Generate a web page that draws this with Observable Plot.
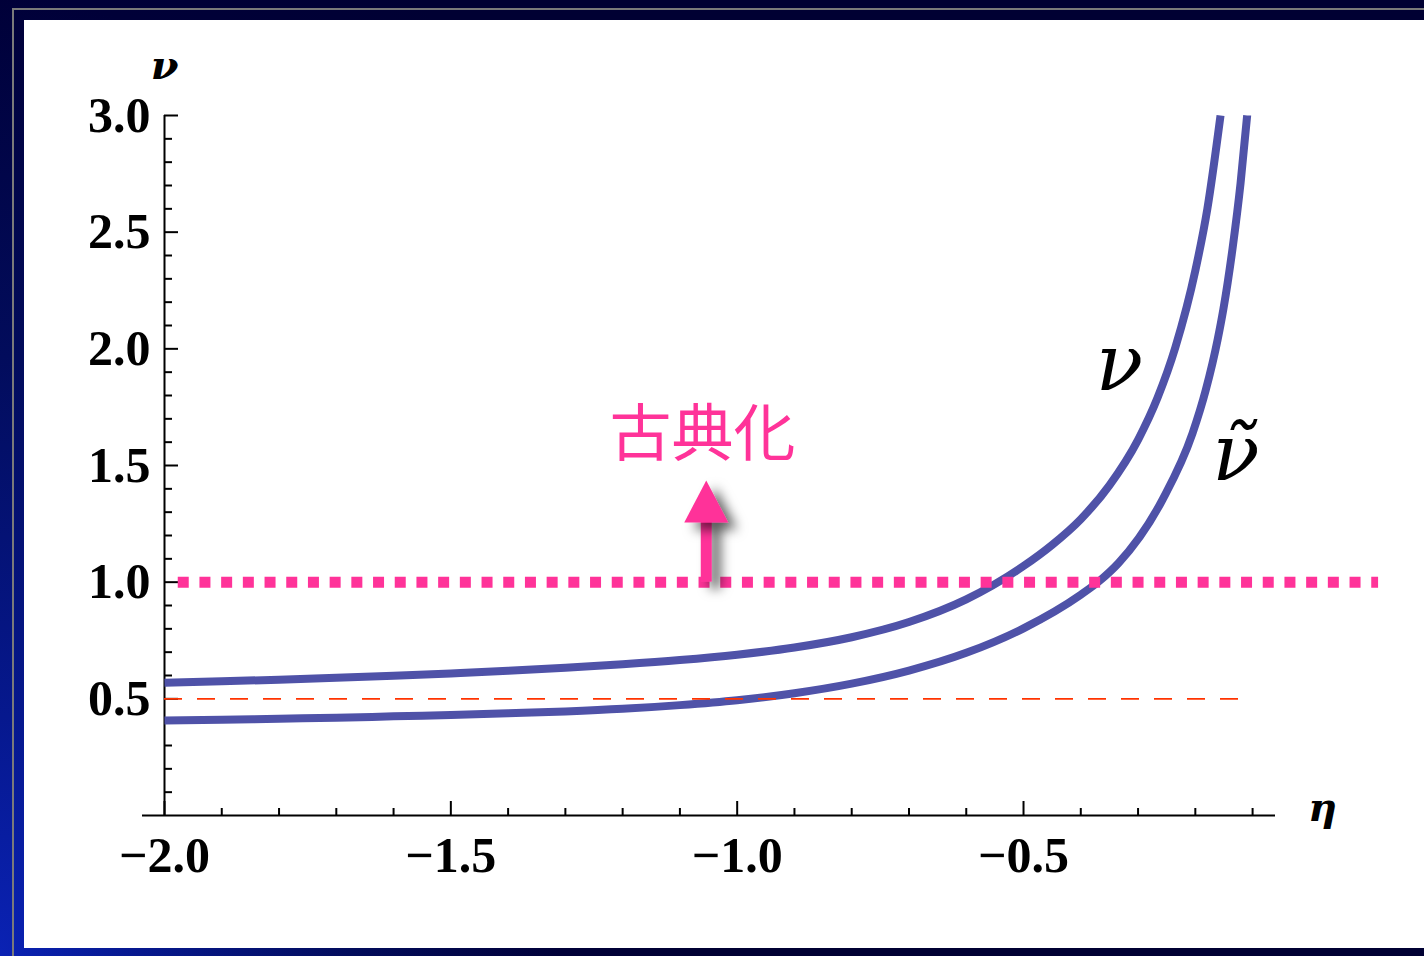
<!DOCTYPE html>
<html><head><meta charset="utf-8">
<script src="https://cdn.jsdelivr.net/npm/d3@7"></script>
<script src="https://cdn.jsdelivr.net/npm/@observablehq/plot@0.6"></script>
<style>
html,body{margin:0;padding:0;width:1424px;height:956px;overflow:hidden;}
body{position:relative;background:radial-gradient(ellipse 700px 1200px at 0% 100%, #0a22b4 0%, #06188e 20%, #020c5c 50%, #000038 80%, #000033 100%);}
#frame{position:absolute;left:12px;top:8px;right:0;bottom:0;border-left:2px solid #7a7a7a;border-top:2px solid #7a7a7a;}
#panel{position:absolute;left:24px;top:20px;width:1400px;height:928px;background:#fff;}
#chart{position:absolute;left:0;top:0;}
</style></head><body>
<div id="frame"></div><div id="panel"></div><div id="chart"></div>
<script>
// ν curve
const etaNu = [-2.0,-1.9,-1.8,-1.7,-1.6,-1.5,-1.4,-1.3,-1.2,-1.1,-1.0,-0.9,-0.8,-0.7,-0.6,-0.5,-0.45,-0.4,-0.35,-0.3,-0.266,-0.235,-0.2,-0.179,-0.156];
const nuVals = [0.569,0.575,0.582,0.590,0.599,0.609,0.620,0.633,0.648,0.666,0.689,0.720,0.764,0.829,0.926,1.069,1.16,1.27,1.415,1.61,1.79,2.005,2.335,2.60,3.0];
// ν̃ curve
const etaNuT = [-2.0,-1.9,-1.8,-1.7,-1.6,-1.5,-1.4,-1.3,-1.2,-1.1,-1.0,-0.9,-0.8,-0.7,-0.6,-0.5,-0.4,-0.366,-0.334,-0.257,-0.205,-0.182,-0.161,-0.151,-0.135,-0.121,-0.1095];
const nuTVals = [0.407,0.410,0.415,0.419,0.425,0.431,0.438,0.446,0.457,0.473,0.494,0.524,0.565,0.621,0.697,0.802,0.946,1.008,1.082,1.355,1.637,1.821,2.04,2.17,2.43,2.71,3.0];
// ticks
const xMajorTicks = [-2.0,-1.5,-1.0,-0.5];
const xMinorTicks = [-1.9,-1.8,-1.7,-1.6,-1.4,-1.3,-1.2,-1.1,-0.9,-0.8,-0.7,-0.6,-0.4,-0.3,-0.2,-0.1];
const yMajorTicks = [0.5,1.0,1.5,2.0,2.5,3.0];
const yMinorTicks = [0.1,0.2,0.3,0.4,0.6,0.7,0.8,0.9,1.1,1.2,1.3,1.4,1.6,1.7,1.8,1.9,2.1,2.2,2.3,2.4,2.6,2.7,2.8,2.9];
// reference lines
const dashedLine = [{y:0.5, x1:-2.0, x2:-0.12}];
const dottedLine = [{y:1.0, x1:-1.976, x2:0.12}];
// annotations
const arrowShaft = [{x:-1.054, y1:1.0, y2:1.28}];
const arrowHead = [{x:-1.054, y:1.316}];
const noteText = [{x:-1.0605, y:1.625, text:"古典化"}];
const curveLabels = [{x:-0.3324, y:1.93, text:"ν"}, {x:-0.129, y:1.545, text:"ν\u0303"}];
const axisLabels = [{x:-2.0, y:3.21, text:"ν"}, {x:0.022, y:0.03, text:"η"}];
const xAxisExtent = [{y:0, x1:-2.0384, x2:-0.06}];

const nuData = etaNu.map((e,i)=>({eta:e, v:nuVals[i]}));
const nuTData = etaNuT.map((e,i)=>({eta:e, v:nuTVals[i]}));
const fmt = d => (d<0?"\u2212":"") + Math.abs(d).toFixed(1);
const curveColor = "#4f52a8";
const pink = "#ff3399";
const tickFont = {fontSize:50, fontFamily:"Liberation Serif", fontWeight:"bold"};
const arrowSymbol = {draw(ctx){ ctx.moveTo(0,-28); ctx.lineTo(22,14); ctx.lineTo(-22,14); ctx.closePath(); }};

const chart = Plot.plot({
  width:1424, height:956,
  marginLeft:164, marginRight:149, marginTop:115, marginBottom:141,
  x:{domain:[-2.0,-0.06]},
  y:{domain:[0,3]},
  style:{background:"transparent", overflow:"visible"},
  marks:[
    Plot.ruleY(xAxisExtent, {y:"y", x1:"x1", x2:"x2", stroke:"black", strokeWidth:2}),
    Plot.ruleX([-2.0], {y1:0, y2:3, stroke:"black", strokeWidth:2}),
    Plot.axisX(xMinorTicks, {tickSize:-7, tickFormat:()=>"", label:null, strokeWidth:2}),
    Plot.axisX(xMajorTicks, {tickSize:-14, tickPadding:35, tickFormat:fmt, label:null, strokeWidth:2, ...tickFont, fill:"black"}),
    Plot.axisY(yMinorTicks, {tickSize:-8, tickFormat:()=>"", label:null, strokeWidth:2}),
    Plot.axisY(yMajorTicks, {tickSize:-14, tickPadding:28, tickFormat:fmt, label:null, strokeWidth:2, ...tickFont, fill:"black"}),
    Plot.line(nuData, {x:"eta", y:"v", stroke:curveColor, strokeWidth:8, curve:"monotone-x", strokeLinecap:"butt"}),
    Plot.line(nuTData, {x:"eta", y:"v", stroke:curveColor, strokeWidth:8, curve:"monotone-x", strokeLinecap:"butt"}),
    Plot.ruleY(dashedLine, {y:"y", x1:"x1", x2:"x2", stroke:"#ff3300", strokeWidth:1.6, strokeDasharray:"18,15"}),
    Plot.ruleY(dottedLine, {y:"y", x1:"x1", x2:"x2", stroke:pink, strokeWidth:11, strokeDasharray:"11,10.7"}),
    Plot.ruleX(arrowShaft, {x:"x", y1:"y1", y2:"y2", stroke:pink, strokeWidth:11, strokeMiterlimit:7}),
    Plot.dot(arrowHead, {x:"x", y:"y", symbol:arrowSymbol, fill:pink, stroke:"none", strokeMiterlimit:7}),
    Plot.text(noteText, {x:"x", y:"y", text:"text", fill:pink, fontSize:62, fontFamily:"Noto Sans CJK JP", fontWeight:400}),
    Plot.text(curveLabels, {x:"x", y:"y", text:"text", fill:"black", fontSize:78, fontFamily:"DejaVu Serif", fontStyle:"italic"}),
    Plot.text(axisLabels, {x:"x", y:"y", text:"text", fill:"black", fontSize:40, fontFamily:"DejaVu Serif", fontStyle:"italic", fontWeight:"bold"})
  ]
});
document.getElementById("chart").appendChild(chart);
// drop shadow for the arrow
const ns = "http://www.w3.org/2000/svg";
const defs = document.createElementNS(ns, "defs");
defs.innerHTML = '<filter id="arrowShadow" filterUnits="userSpaceOnUse" x="0" y="0" width="1424" height="956"><feDropShadow dx="9" dy="7" stdDeviation="6" flood-color="#000" flood-opacity="0.6"/></filter>';
chart.insertBefore(defs, chart.firstChild);
chart.querySelectorAll('g[stroke-miterlimit="7"]').forEach(g=>{
  g.setAttribute("filter", "url(#arrowShadow)");
});
</script>
</body></html>
